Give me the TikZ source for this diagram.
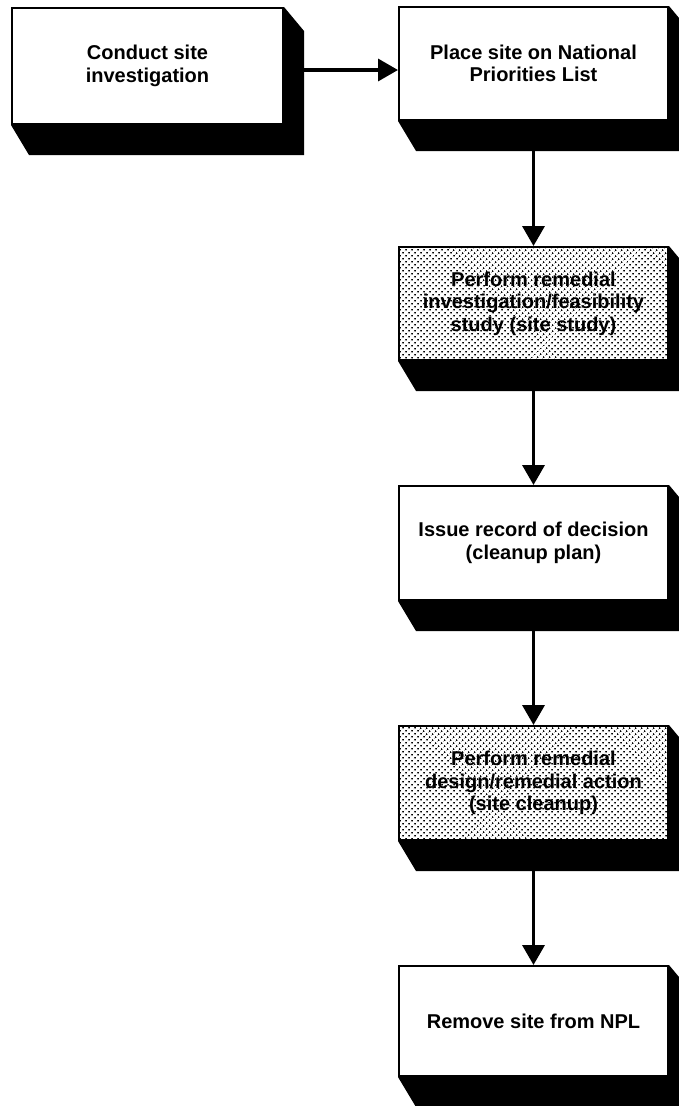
\documentclass[tikz,border=0pt]{standalone}
\usepackage{fontspec}
\setmainfont{Liberation Sans}
\usetikzlibrary{arrows.meta,calc,patterns.meta}
\pgfdeclarelayer{bg}
\pgfsetlayers{bg,main}
\tikzset{
  stepbox/.style={draw=black, line width=2pt, fill=white, rectangle,
    minimum width=269pt, minimum height=113pt, inner sep=4pt,
    align=center, font=\bfseries\fontsize{20}{22.5}\selectfont},
  dotted box/.style={stepbox, preaction={fill=white},
    pattern={Dots[distance=4pt, radius=1.1pt, angle=45]}, pattern color=black},
  flow/.style={line width=3.5pt, -{Triangle[length=20pt,width=22pt]}},
  shadowfill/.style={fill=black}
}
\newcommand{\boxshadow}[1]{%
  \begin{pgfonlayer}{bg}
  \fill[shadowfill] (#1.north east) -- ++(20,24) -- ($(#1.south east)+(20,30)$)
    -- ($(#1.south west)+(18,30)$) -- (#1.south west) -- (#1.north west) -- cycle;
  \end{pgfonlayer}}
\begin{document}
\begin{tikzpicture}[x=1pt,y=-1pt]
\useasboundingbox (0,0) rectangle (679,1106);
\node[stepbox, minimum width=271pt, minimum height=116pt] (b1) at (147.5,66) {Conduct site\\investigation};
\node[stepbox] (b2) at (533.5,63.5) {Place site on National\\Priorities List};
\node[dotted box] (b3) at (533.5,303.5) {Perform remedial\\investigation/feasibility\\study (site study)};
\node[stepbox, minimum height=114pt] (b4) at (533.5,543) {Issue record of decision\\(cleanup plan)};
\node[dotted box, minimum height=114pt] (b5) at (533.5,783) {Perform remedial\\design/remedial action\\(site cleanup)};
\node[stepbox, minimum height=110pt] (b6) at (533.5,1021) {Remove site from NPL};
\boxshadow{b1}
\boxshadow{b2}
\boxshadow{b3}
\boxshadow{b4}
\boxshadow{b5}
\boxshadow{b6}
\coordinate (a1) at ($(b1.east)+(0,4)$);
\draw[flow] (a1) -- (a1 -| b2.west);
\draw[flow] (b2.south) -- (b3.north);
\draw[flow] (b3.south) -- (b4.north);
\draw[flow] (b4.south) -- (b5.north);
\draw[flow] (b5.south) -- (b6.north);
\end{tikzpicture}
\end{document}
